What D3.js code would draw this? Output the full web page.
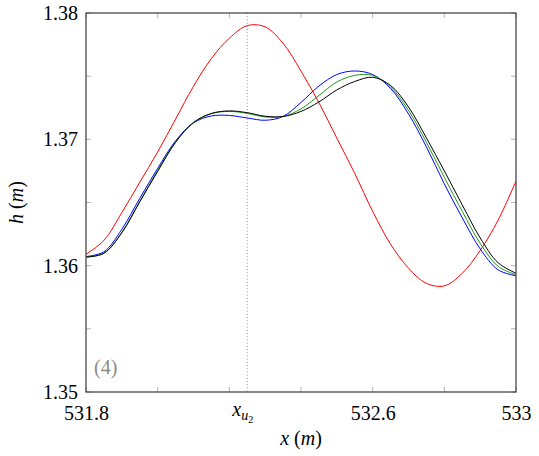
<!DOCTYPE html>
<html>
<head>
<meta charset="utf-8">
<script src="https://cdn.jsdelivr.net/npm/d3@7"></script>
</head>
<body style="margin:0">
<script>
// sample positions along x (m)
var xs = [531.80, 531.85, 531.90, 531.95, 532.00, 532.05, 532.10, 532.15, 532.20,
  532.25, 532.30, 532.35, 532.40, 532.45, 532.50, 532.55, 532.60, 532.65,
  532.70, 532.75, 532.80, 532.85, 532.90, 532.95, 533.00];

var hRed = [1.3609, 1.3620, 1.3642, 1.3666, 1.3690, 1.3716, 1.3742, 1.3764, 1.3780,
  1.3790, 1.3789, 1.3776, 1.3754, 1.3729, 1.3701, 1.3673, 1.3643, 1.3617,
  1.3598, 1.3586, 1.3584, 1.3594, 1.3612, 1.3636, 1.3667];

var hBlue = [1.36072, 1.36110, 1.36288, 1.36533, 1.36770, 1.36988, 1.37130, 1.37185, 1.37189,
  1.37169, 1.37151, 1.37181, 1.37292, 1.37422, 1.37513, 1.37541, 1.37513, 1.37403,
  1.37201, 1.36940, 1.36647, 1.36379, 1.36133, 1.35967, 1.35920];

var hGreen = [1.36068, 1.36099, 1.36264, 1.36509, 1.36754, 1.36980, 1.37131, 1.37203, 1.37221,
  1.37205, 1.37177, 1.37181, 1.37241, 1.37347, 1.37454, 1.37506, 1.37506, 1.37415,
  1.37229, 1.36976, 1.36699, 1.36430, 1.36177, 1.35995, 1.35928];

var hBlack = [1.36068, 1.36098, 1.36260, 1.36505, 1.36746, 1.36976, 1.37134, 1.37205, 1.37225,
  1.37211, 1.37183, 1.37181, 1.37221, 1.37296, 1.37391, 1.37458, 1.37491, 1.37426,
  1.37256, 1.37011, 1.36750, 1.36481, 1.36220, 1.36023, 1.35940];

var xTicks = [531.8, 532.0, 532.2, 532.4, 532.6, 532.8, 533.0];
var xLabels = [531.8, 532.6, 533];
var yTicks = [1.35, 1.355, 1.36, 1.365, 1.37, 1.375, 1.38];
var yLabels = [1.35, 1.36, 1.37, 1.38];
var xU2 = 532.25;

function renderChart() {
  var width = 539, height = 456;
  var pl = 86, pr = 516, pt = 13, pb = 392;
  var serif = 'Liberation Serif';

  var svg = d3.select('body')
    .append('svg')
    .attr('width', width)
    .attr('height', height);

  var x = d3.scaleLinear().domain([531.8, 533]).range([pl, pr]);
  var y = d3.scaleLinear().domain([1.35, 1.38]).range([pb, pt]);

  svg.append('defs').append('clipPath').attr('id', 'clip')
    .append('rect')
    .attr('x', pl).attr('y', pt)
    .attr('width', pr - pl).attr('height', pb - pt);

  // inward ticks on all four sides
  var tickLen = 5;
  var tg = svg.append('g').attr('stroke', '#b4b4b4').attr('stroke-width', 1);
  xTicks.forEach(function (t) {
    tg.append('line').attr('x1', x(t)).attr('x2', x(t)).attr('y1', pb).attr('y2', pb - tickLen);
    tg.append('line').attr('x1', x(t)).attr('x2', x(t)).attr('y1', pt).attr('y2', pt + tickLen);
  });
  yTicks.forEach(function (t) {
    tg.append('line').attr('y1', y(t)).attr('y2', y(t)).attr('x1', pl).attr('x2', pl + tickLen);
    tg.append('line').attr('y1', y(t)).attr('y2', y(t)).attr('x1', pr).attr('x2', pr - tickLen);
  });

  // dotted marker at x_u2
  svg.append('line')
    .attr('x1', x(xU2)).attr('x2', x(xU2))
    .attr('y1', pt).attr('y2', pb)
    .attr('stroke', '#8c8c8c')
    .attr('stroke-width', 1)
    .attr('stroke-dasharray', '1,2.2');

  var line = d3.line()
    .x(function (d) { return x(d[0]); })
    .y(function (d) { return y(d[1]); })
    .curve(d3.curveCatmullRom.alpha(0.5));

  var series = [
    { h: hRed, c: '#ff0000' },
    { h: hBlue, c: '#0000ff' },
    { h: hGreen, c: '#1e9a1e' },
    { h: hBlack, c: '#000000' }
  ];

  var plot = svg.append('g').attr('clip-path', 'url(#clip)');
  series.forEach(function (s) {
    plot.append('path')
      .datum(xs.map(function (v, i) { return [v, s.h[i]]; }))
      .attr('fill', 'none')
      .attr('stroke', s.c)
      .attr('stroke-width', 1)
      .attr('d', line);
  });

  // frame
  svg.append('rect')
    .attr('x', pl).attr('y', pt)
    .attr('width', pr - pl).attr('height', pb - pt)
    .attr('fill', 'none')
    .attr('stroke', '#3a3a3a')
    .attr('stroke-width', 1.2);

  // tick labels
  var xAxis = d3.axisBottom(x).tickValues(xLabels).tickSize(0).tickPadding(14)
    .tickFormat(function (d) { return String(d); });
  var gx = svg.append('g').attr('transform', 'translate(0,' + pb + ')').call(xAxis);
  gx.select('.domain').remove();

  var yAxis = d3.axisLeft(y).tickValues(yLabels).tickSize(0).tickPadding(8)
    .tickFormat(d3.format('.2f'));
  var gy = svg.append('g').attr('transform', 'translate(' + pl + ',0)').call(yAxis);
  gy.select('.domain').remove();

  [gx, gy].forEach(function (g) {
    g.selectAll('text')
      .attr('fill', '#000')
      .attr('font-size', 20)
      .attr('font-family', serif);
  });

  // x_{u_2} label
  var xu = svg.append('text')
    .attr('x', x(xU2) - 15)
    .attr('y', 416)
    .attr('font-size', 20);
  xu.append('tspan').attr('font-style', 'italic').text('x');
  xu.append('tspan').attr('font-style', 'italic').attr('font-size', 14).attr('dy', 4).text('u');
  xu.append('tspan').attr('font-size', 10).attr('dy', 3).text('2');

  // axis titles
  var xt = svg.append('text')
    .attr('x', (pl + pr) / 2)
    .attr('y', 445)
    .attr('text-anchor', 'middle')
    .attr('font-size', 20);
  xt.append('tspan').attr('font-style', 'italic').text('x');
  xt.append('tspan').text(' (');
  xt.append('tspan').attr('font-style', 'italic').text('m');
  xt.append('tspan').text(')');

  var yt = svg.append('text')
    .attr('transform', 'translate(23,' + (pt + pb) / 2 + ') rotate(-90)')
    .attr('text-anchor', 'middle')
    .attr('font-size', 20);
  yt.append('tspan').attr('font-style', 'italic').text('h');
  yt.append('tspan').text(' (');
  yt.append('tspan').attr('font-style', 'italic').text('m');
  yt.append('tspan').text(')');

  svg.append('text')
    .attr('x', 94)
    .attr('y', 374)
    .attr('font-size', 20)
    .attr('fill', '#8a8a8a')
    .text('(4)');

  svg.selectAll('text').attr('font-family', serif);
  svg.selectAll('tspan').attr('font-family', serif);
}

renderChart();
</script>
</body>
</html>
